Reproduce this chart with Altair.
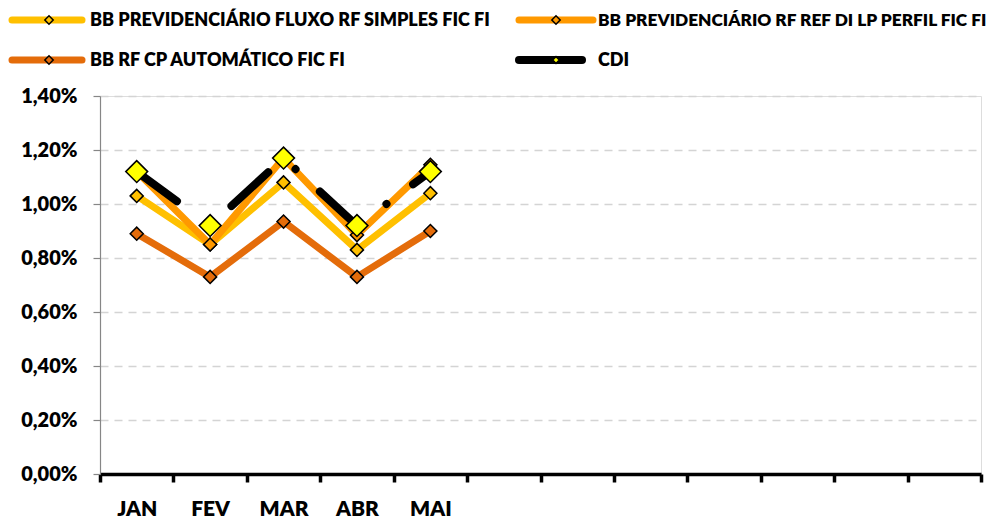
import altair as alt
import pandas as pd

months = ["JAN", "FEV", "MAR", "ABR", "MAI", "JUN", "JUL", "AGO", "SET", "OUT", "NOV", "DEZ"]
series_names = [
    "BB PREVIDENCIÁRIO FLUXO RF SIMPLES FIC FI",
    "BB PREVIDENCIÁRIO RF REF DI LP PERFIL FIC FI",
    "BB RF CP AUTOMÁTICO FIC FI",
    "CDI",
]
fluxo = [1.03, 0.85, 1.08, 0.83, 1.04]
perfil = [1.12, 0.85, 1.17, 0.885, 1.145]
automatico = [0.89, 0.73, 0.935, 0.73, 0.90]
cdi = [1.12, 0.92, 1.17, 0.92, 1.12]
y_ticks = [0.0, 0.2, 0.4, 0.6, 0.8, 1.0, 1.2, 1.4]

line_colors = ["#FFC000", "#FF9900", "#E46C0A", "#000000"]
marker_fills = ["#FFC000", "#FF9900", "#E46C0A", "#FFFF00"]

rows = []
for name, vals in zip(series_names, [fluxo, perfil, automatico, cdi]):
    for i, v in enumerate(vals):
        rows.append({"serie": name, "mes": months[i], "pos": i + 0.5, "valor": v})
df = pd.DataFrame(rows)

FONT = "Lato"
WEIGHT = 800
W, H = 881, 378

month_arr = "[" + ",".join(f"'{m}'" for m in months[:5]) + "]"
x_enc = alt.X(
    "pos:Q",
    scale=alt.Scale(domain=[0, 12], nice=False, zero=False),
    axis=alt.Axis(
        values=list(range(13)),
        labelExpr=f"datum.value < 5 ? {month_arr}[datum.value] : ''",
        labelOffset=W / 24,
        title=None,
        grid=False,
        domainColor="#000000",
        domainWidth=3.5,
        tickColor="#000000",
        tickWidth=3.5,
        tickSize=8,
        labelFont=FONT,
        labelFontSize=21,
        labelFontWeight=WEIGHT,
        labelColor="#000000",
        labelPadding=16,
        labelFlush=False,
    ),
)
y_enc = alt.Y(
    "valor:Q",
    scale=alt.Scale(domain=[0, 1.4], nice=False),
    axis=alt.Axis(
        values=y_ticks,
        labelExpr="replace(format(datum.value, '.2f'), '.', ',') + '%'",
        title=None,
        grid=True,
        gridColor="#D4D4D4",
        gridDash=[8, 6],
        gridWidth=1.5,
        domainColor="#868686",
        domainWidth=1.2,
        tickColor="#868686",
        tickWidth=1.2,
        tickSize=7,
        labelFont=FONT,
        labelFontSize=20,
        labelFontWeight=WEIGHT,
        labelColor="#000000",
        labelPadding=16,
    ),
)

layers = []
layers.append(
    alt.Chart(df).mark_point(opacity=0).encode(x=x_enc, y=y_enc)
)
for k, name in enumerate(series_names):
    base = alt.Chart(df).transform_filter(alt.datum.serie == name)
    if name == "CDI":
        line = base.mark_line(
            color="#000000", strokeWidth=8, strokeCap="round", strokeJoin="round",
            strokeDash=[50, 37, 0.1, 33],
        )
        pts = base.mark_point(
            shape="diamond", filled=True, fill="#FFFF00", stroke="#000000",
            strokeWidth=1.5, size=480, opacity=1,
        )
    else:
        line = base.mark_line(
            color=line_colors[k], strokeWidth=7, strokeCap="butt", strokeJoin="round",
        )
        pts = base.mark_point(
            shape="diamond", filled=True, fill=marker_fills[k], stroke="#000000",
            strokeWidth=1.5, size=170, opacity=1,
        )
    layers.append(line.encode(x=alt.X("pos:Q"), y=alt.Y("valor:Q")))
    layers.append(pts.encode(x=alt.X("pos:Q"), y=alt.Y("valor:Q")))

# manual legend (2 columns)
X0, Y0 = 100, 96  # plot origin on page
leg = [
    (12, 82, 49, 90, 20, 18),
    (519, 593, 556, 598, 20, 17.3),
    (12, 82, 49, 90, 60, 18),
    (519, 582, 556, 598, 60, 18),
]
one = pd.DataFrame({"a": [0]})
for k, (lx1, lx2, dx, tx, ly, fs) in enumerate(leg):
    layers.append(
        alt.Chart(one).mark_rule(
            color=line_colors[k], strokeWidth=7 if k < 3 else 8, strokeCap="round"
        ).encode(
            x=alt.value(lx1 - X0), x2=alt.value(lx2 - X0), y=alt.value(ly - Y0)
        )
    )
    layers.append(
        alt.Chart(one).mark_point(
            shape="diamond", filled=True, fill=marker_fills[k], stroke="#000000",
            strokeWidth=1.5, size=70 if k < 3 else 45, opacity=1,
        ).encode(x=alt.value(dx - X0), y=alt.value(ly - Y0))
    )
    layers.append(
        alt.Chart(one).mark_text(
            text=series_names[k], align="left", baseline="middle", font=FONT,
            fontSize=fs, fontWeight=WEIGHT, color="#000000",
        ).encode(x=alt.value(tx - X0), y=alt.value(ly + 1 - Y0))
    )

chart = alt.layer(*layers).properties(
    width=W,
    height=H,
    autosize=alt.AutoSizeParams(type="none"),
    padding={"left": X0 - 8, "top": Y0 - 8, "right": 19, "bottom": 46},
).configure_view(stroke=None).configure(background="#FFFFFF")

chart.save("out.html", embed_options={"renderer": "svg", "actions": False})
